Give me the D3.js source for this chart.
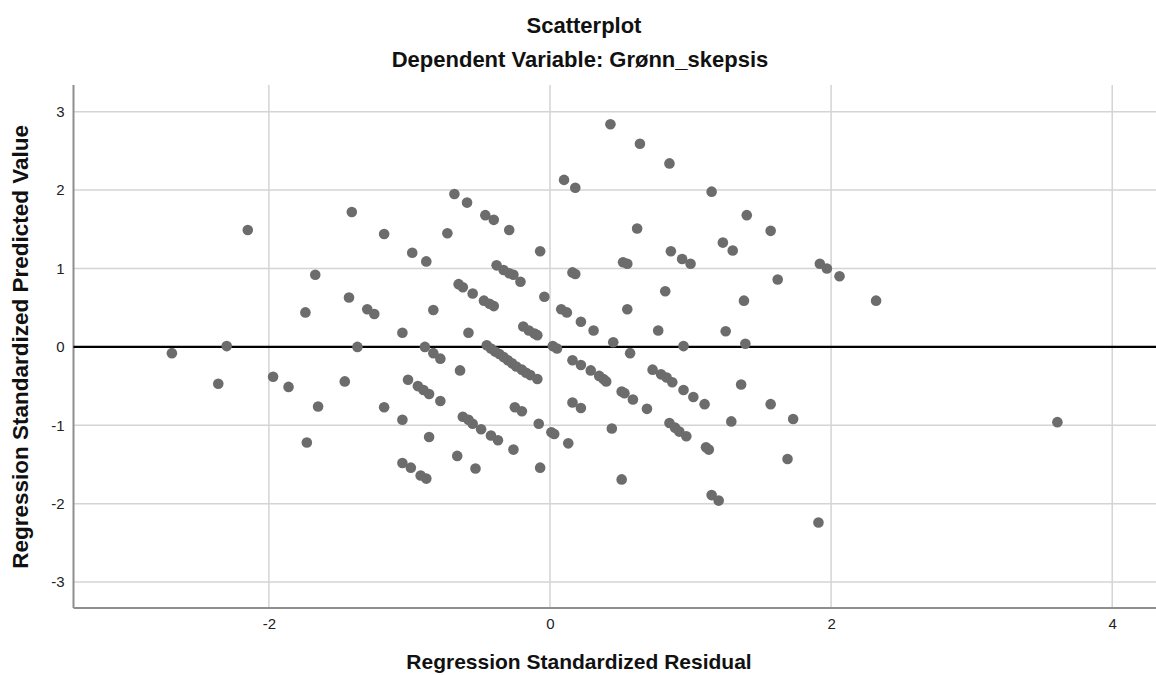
<!DOCTYPE html>
<html>
<head>
<meta charset="utf-8">
<script src="https://cdn.jsdelivr.net/npm/d3@7"></script>
<style>
  body { margin: 0; background: #fff; }
  svg { display: block; font-family: "Liberation Sans", Arial, sans-serif; }
  .grid line { stroke: #d4d4d4; stroke-width: 1.5; }
  .tick text { font-size: 15px; fill: #222; }
</style>
</head>
<body>
<svg width="1156" height="675"></svg>
<script>
// residual (x) and predicted (y)
var residual = [
  -2.69, -2.36, -2.30, -2.15, -1.97, -1.86, -1.74, -1.73, -1.67, -1.65,
  -1.46, -1.43, -1.41, -1.37, -1.30, -1.25, -1.18, -1.18, -1.05, -1.05,
  -1.01, -0.98, -0.88, -0.89, -0.83, -0.78, -0.83, -0.94, -0.90, -0.86,
  -0.78, -0.86, -1.05, -0.99, -0.92, -0.88,
  -0.68, -0.59, -0.46, -0.40, -0.29, -0.07, -0.73,
  -0.38, -0.33, -0.29, -0.26, -0.21, -0.65, -0.62, -0.55,
  -0.47, -0.43, -0.40, -0.04, -0.58, -0.19, -0.15, -0.11, -0.09,
  -0.45, -0.42, -0.39, -0.36, -0.33, -0.30, -0.27, -0.24, -0.20, -0.17, -0.14, -0.09,
  -0.64, -0.25, -0.20, -0.62, -0.58, -0.55, -0.49, -0.42, -0.37, -0.26,
  -0.08, 0.01, 0.03, 0.13, -0.66, -0.53, -0.07,
  0.02, 0.05, 0.10, 0.18, 0.43, 0.64, 0.85, 1.15, 1.40, 1.57,
  0.62, 0.52, 0.55, 0.16, 0.18, 0.82, 0.86, 0.94, 1.00, 1.23, 1.30,
  1.92, 1.97, 2.06, 1.62, 2.32, 1.38, 0.08, 0.12, 0.22, 0.31, 0.55,
  0.45, 0.77, 1.25, 0.95, 1.39, 0.57,
  0.16, 0.22, 0.29, 0.35, 0.38, 0.40, 0.51, 0.53, 0.59, 0.69,
  0.16, 0.22, 0.44, 0.51, 0.73, 0.79, 0.83, 0.87, 0.95, 1.02, 1.10,
  0.85, 0.89, 0.92, 0.97, 1.11, 1.13, 1.36, 1.57, 1.73, 1.29, 1.69,
  1.15, 1.20, 1.91, 3.61
];
var predicted = [
  -0.08, -0.47, 0.01, 1.49, -0.38, -0.51, 0.44, -1.22, 0.92, -0.76,
  -0.44, 0.63, 1.72, 0.00, 0.48, 0.42, 1.44, -0.77, 0.18, -0.93,
  -0.42, 1.20, 1.09, 0.00, -0.08, -0.15, 0.47, -0.50, -0.55, -0.60,
  -0.69, -1.15, -1.48, -1.54, -1.64, -1.68,
  1.95, 1.84, 1.68, 1.62, 1.49, 1.22, 1.45,
  1.04, 0.98, 0.94, 0.92, 0.83, 0.80, 0.76, 0.68,
  0.59, 0.55, 0.52, 0.64, 0.18, 0.26, 0.21, 0.17, 0.15,
  0.02, -0.02, -0.06, -0.09, -0.13, -0.17, -0.21, -0.25, -0.29, -0.33, -0.36, -0.41,
  -0.30, -0.77, -0.82, -0.89, -0.93, -0.98, -1.05, -1.13, -1.19, -1.31,
  -0.98, -1.09, -1.11, -1.23, -1.39, -1.55, -1.54,
  0.01, -0.02, 2.13, 2.03, 2.84, 2.59, 2.34, 1.98, 1.68, 1.48,
  1.51, 1.08, 1.06, 0.95, 0.93, 0.71, 1.22, 1.12, 1.06, 1.33, 1.23,
  1.06, 1.00, 0.90, 0.86, 0.59, 0.59, 0.48, 0.44, 0.32, 0.21, 0.48,
  0.06, 0.21, 0.20, 0.01, 0.04, -0.08,
  -0.17, -0.23, -0.30, -0.37, -0.41, -0.44, -0.57, -0.59, -0.67, -0.79,
  -0.71, -0.78, -1.04, -1.69, -0.29, -0.35, -0.39, -0.45, -0.55, -0.64, -0.73,
  -0.97, -1.03, -1.08, -1.14, -1.28, -1.31, -0.48, -0.73, -0.92, -0.95, -1.43,
  -1.89, -1.96, -2.24, -0.96
];
var xTicks = [-2, 0, 2, 4];
var yTicks = [-3, -2, -1, 0, 1, 2, 3];

var svg = d3.select("svg");
var plotLeft = 73.5, plotRight = 1160, plotTop = 85, plotBottom = 608;

var x = d3.scaleLinear().domain([-3.39, 4.34]).range([plotLeft, plotRight]);
var y = d3.scaleLinear().domain([-3.33, 3.34]).range([plotBottom, plotTop]);

var points = residual.map(function(d, i) { return {r: d, p: predicted[i]}; });

// grid
var grid = svg.append("g").attr("class", "grid");
grid.selectAll("line.h").data(yTicks).enter().append("line").attr("class", "h")
    .attr("x1", plotLeft).attr("x2", plotRight)
    .attr("y1", function(d) { return y(d); }).attr("y2", function(d) { return y(d); });
grid.selectAll("line.v").data(xTicks).enter().append("line").attr("class", "v")
    .attr("y1", plotTop).attr("y2", plotBottom)
    .attr("x1", function(d) { return x(d); }).attr("x2", function(d) { return x(d); });

// axes (labels only, lines drawn below)
var xAxis = svg.append("g").attr("transform", "translate(0," + plotBottom + ")")
    .call(d3.axisBottom(x).tickValues(xTicks).tickSize(0).tickPadding(10).tickFormat(d3.format("d")));
var yAxis = svg.append("g").attr("transform", "translate(" + (plotLeft - 1) + ",0)")
    .call(d3.axisLeft(y).tickValues(yTicks).tickSize(0).tickPadding(8).tickFormat(d3.format("d")));
xAxis.select(".domain").remove();
yAxis.select(".domain").remove();
svg.selectAll(".tick text").attr("font-family", null).attr("font-size", null)
    .text(function(d) { return String(d); });

svg.append("line").attr("x1", plotLeft).attr("x2", plotRight).attr("y1", plotBottom).attr("y2", plotBottom)
    .attr("stroke", "#8e8e8e").attr("stroke-width", 2);
svg.append("line").attr("x1", plotLeft).attr("x2", plotLeft).attr("y1", plotTop).attr("y2", plotBottom)
    .attr("stroke", "#8e8e8e").attr("stroke-width", 2);

// reference line at 0
svg.append("line").attr("x1", plotLeft).attr("x2", plotRight).attr("y1", y(0)).attr("y2", y(0))
    .attr("stroke", "#000").attr("stroke-width", 2.2);

// points
svg.append("g").selectAll("circle").data(points).enter().append("circle")
    .attr("cx", function(d) { return x(d.r); })
    .attr("cy", function(d) { return y(d.p); })
    .attr("r", 5.3)
    .attr("fill", "#6c6c6c");

// titles
svg.append("text").attr("x", 584).attr("y", 33).attr("text-anchor", "middle")
    .attr("font-size", 22).attr("font-weight", "bold").attr("fill", "#111").text("Scatterplot");
svg.append("text").attr("x", 580).attr("y", 67).attr("text-anchor", "middle")
    .attr("font-size", 22).attr("font-weight", "bold").attr("fill", "#111").text("Dependent Variable: Grønn_skepsis");
svg.append("text").attr("x", 579).attr("y", 669).attr("text-anchor", "middle")
    .attr("font-size", 21).attr("font-weight", "bold").attr("fill", "#111").text("Regression Standardized Residual");
svg.append("text").attr("transform", "translate(28," + y(0) + ") rotate(-90)").attr("text-anchor", "middle")
    .attr("font-size", 22.5).attr("font-weight", "bold").attr("fill", "#111").text("Regression Standardized Predicted Value");
</script>
</body>
</html>
